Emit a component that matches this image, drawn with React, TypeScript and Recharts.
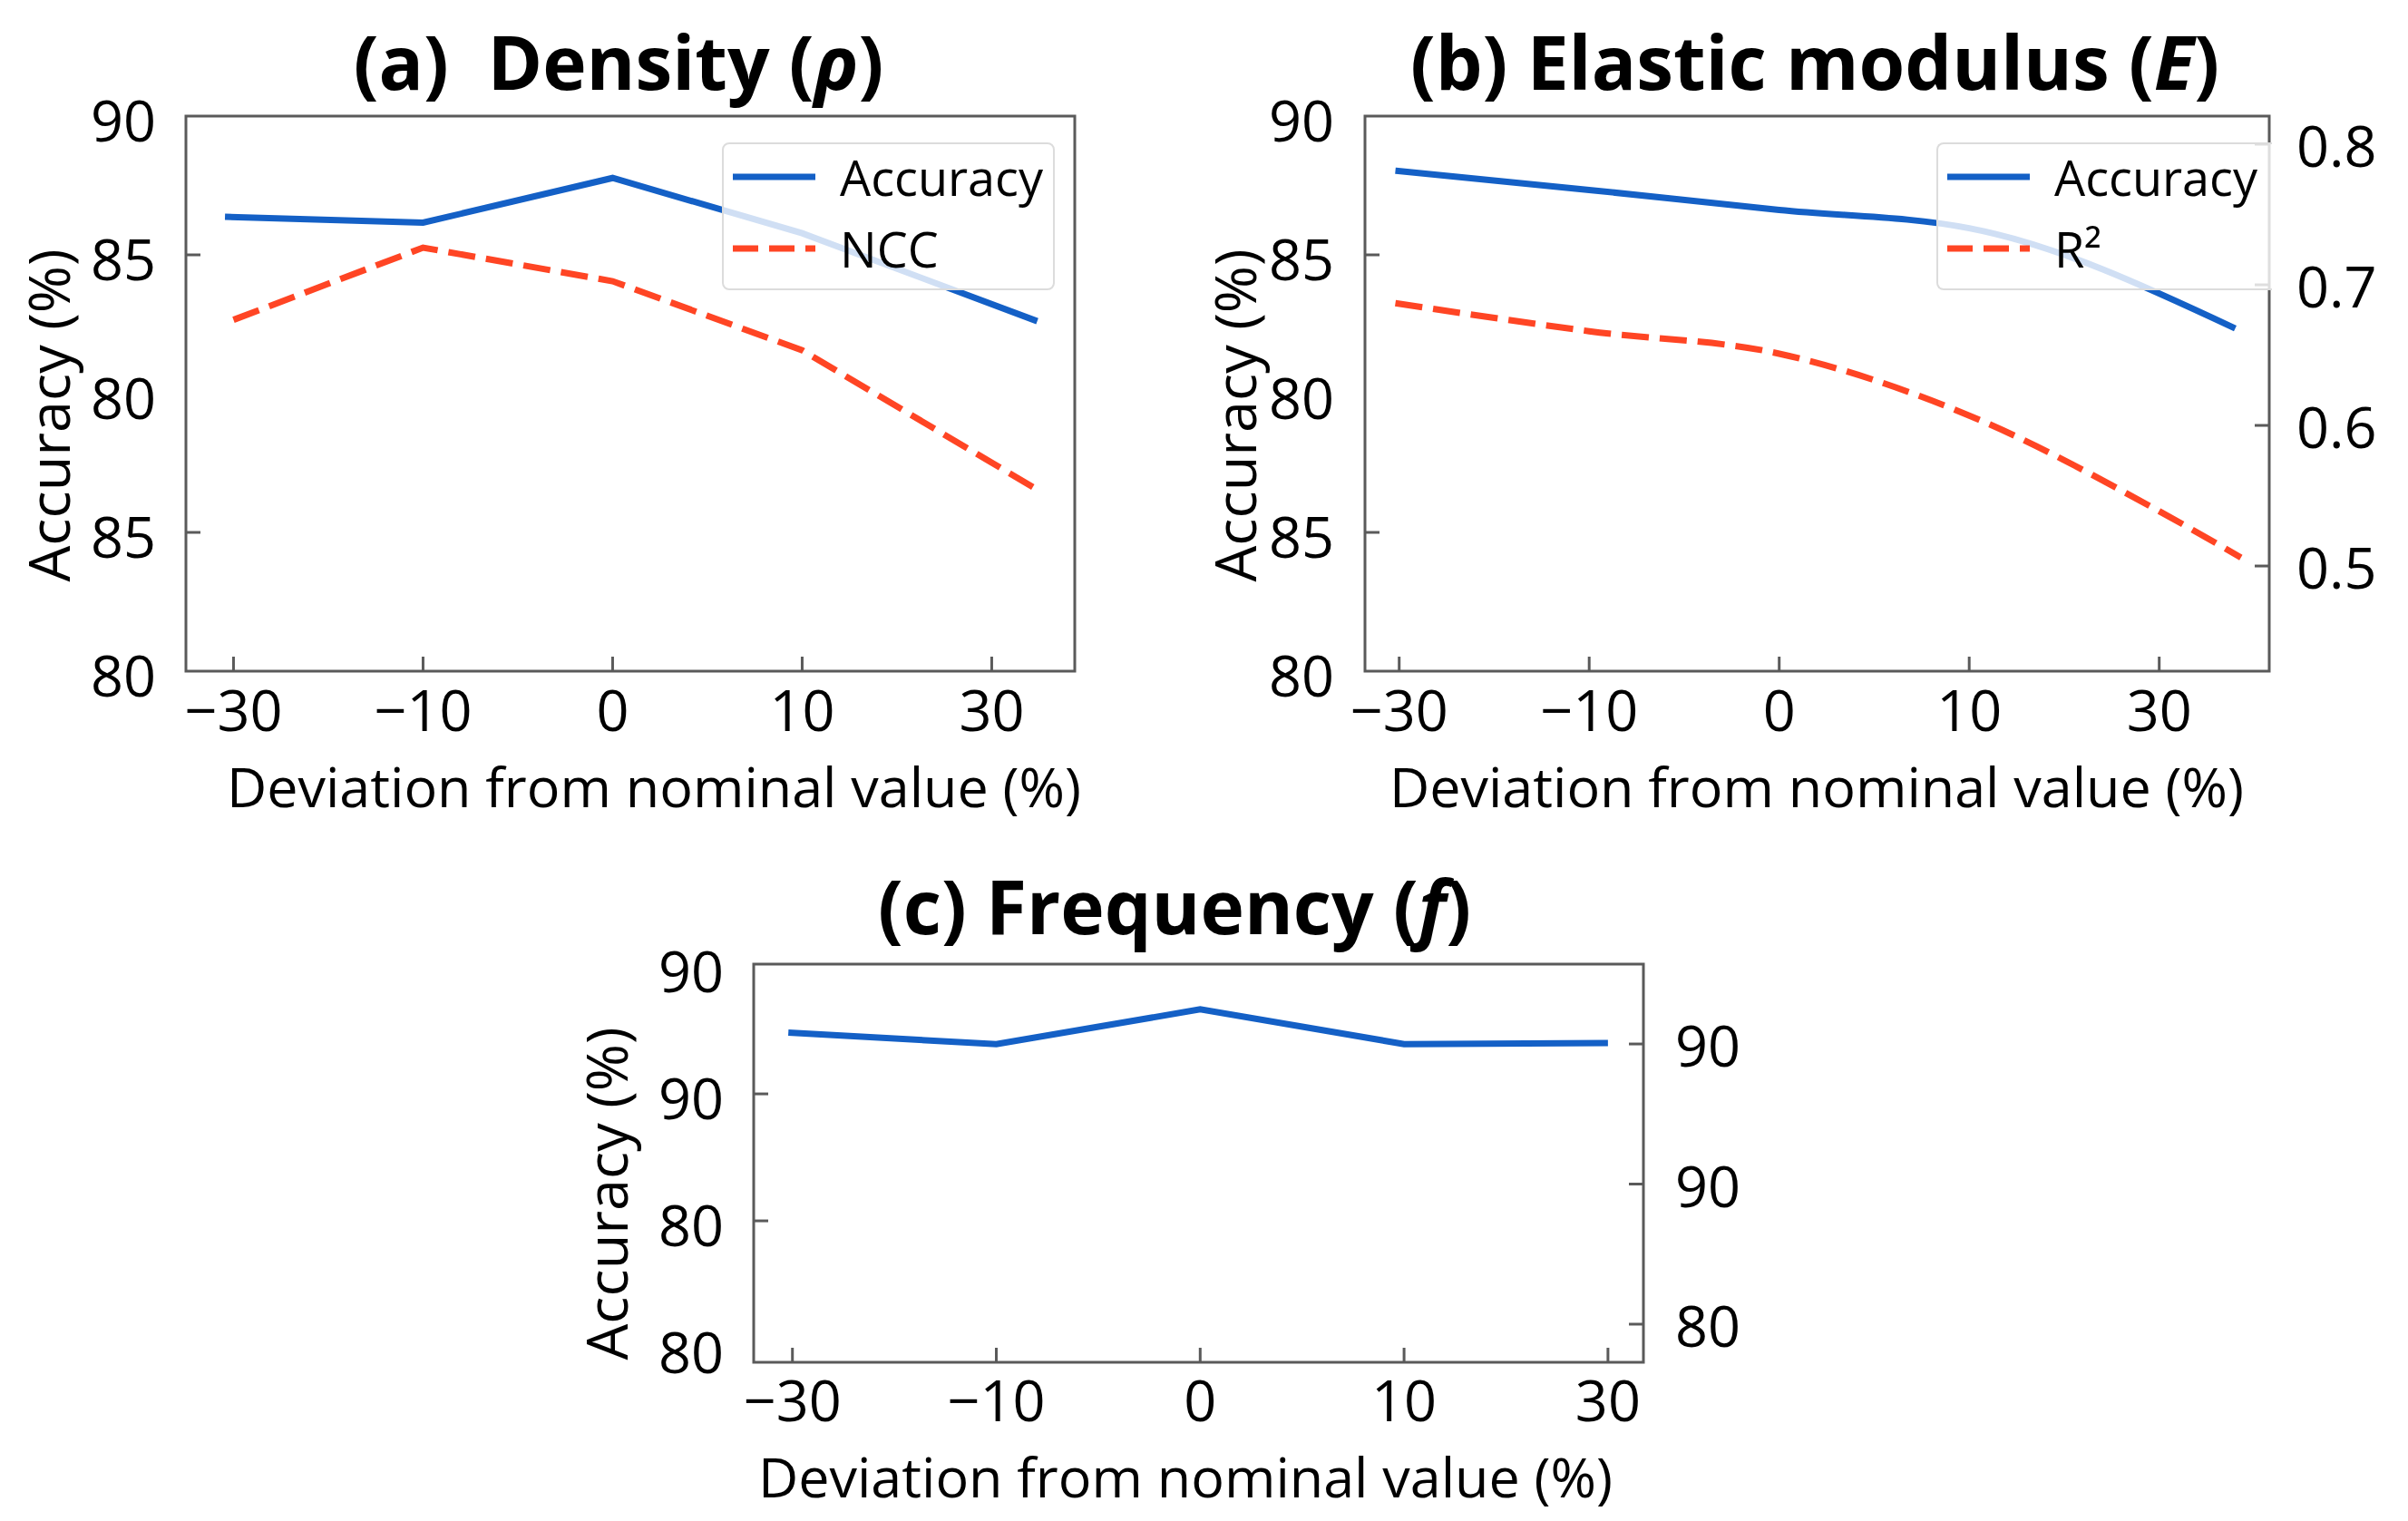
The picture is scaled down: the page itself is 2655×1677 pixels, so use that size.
import React from 'react';
import { LineChart, Line, XAxis, YAxis, ReferenceArea, Legend } from 'recharts';

// Sensitivity of accuracy to parameter deviation — three panels (a) (b) (c)

const FONT = '"Open Sans", "Noto Sans", sans-serif';
const BLUE = '#1460C6';
const RED = '#FF4524';
const FRAME = '#5a5a5a';

// the five deviation levels sit at equal spacing on the x axis (slot 0..4)
const deviationTicks = [0, 1, 2, 3, 4];
const deviationLabels = ['−30', '−10', '0', '10', '30'];

// (a) density
const densityAccX = [-0.045, 1, 2, 3, 4.24];
const densityAcc = [86.37, 86.16, 87.77, 85.78, 82.61];
const densityNccX = [0, 1, 2, 3, 4.24];
const densityNcc = [82.66, 85.26, 84.05, 81.56, 76.54];

// (b) elastic modulus
const elasticAccX = [-0.02, 1, 2, 3, 4.4];
const elasticAcc = [88.03, 87.34, 86.62, 85.96, 82.35];
const elasticR2X = [-0.02, 1, 2, 3, 4, 4.43];
const elasticR2 = [0.687, 0.667, 0.651, 0.607, 0.539, 0.506];

// (c) frequency
const freqAccX = [-0.02, 1, 2, 3, 4];
const freqAcc = [87.41, 86.96, 88.33, 86.96, 87.0];

// y ticks — the figure repeats some of its labels
const accTicksAB = [70, 75, 80, 85, 90];
const accLabelsAB = ['80', '85', '80', '85', '90'];
const accMarkedAB = [75, 85];
const r2Ticks = [0.5, 0.6, 0.7, 0.8];
const r2Labels = ['0.5', '0.6', '0.7', '0.8'];
const accTicksC = [75, 80, 85, 90];
const accLabelsC = ['80', '80', '90', '90'];
const accMarkedC = [80, 85];
const rightTicksC = [80, 85, 90];
const rightLabelsC = ['80', '90', '90'];

const toPoints = (xs: number[], ys: number[]) => xs.map((x, i) => ({ x, y: ys[i] }));

const X_DOMAIN_A: [number, number] = [-0.251, 4.438];
const X_DOMAIN_B: [number, number] = [-0.18, 4.579];
const X_DOMAIN_C: [number, number] = [-0.19, 4.174];
const ACC_DOMAIN_AB: [number, number] = [70, 90];
const R2_DOMAIN: [number, number] = [0.4252, 0.82];
const ACC_DOMAIN_C: [number, number] = [74.43, 90.11];
const RIGHT_DOMAIN_C: [number, number] = [78.64, 92.85];

const TICK_FONT = 63;
const MARK = 16;

type Side = 'left' | 'right' | 'bottom';

// custom tick: label plus an inward tick mark (only some ticks carry a mark)
const makeTick =
  (side: Side, ticks: number[], labels: string[], marked: number[] | null, gap: number) =>
  (props: any) => {
    const { x, y, payload } = props;
    const i = ticks.indexOf(payload.value);
    const label = i >= 0 ? labels[i] : String(payload.value);
    const hasMark = marked === null || marked.includes(payload.value);
    const textProps = { fontSize: TICK_FONT, fontFamily: FONT, fill: '#000' };
    if (side === 'bottom') {
      return (
        <g>
          {hasMark && <line x1={x} x2={x} y1={y} y2={y - MARK} stroke={FRAME} strokeWidth={3} />}
          <text x={x} y={y + gap} textAnchor="middle" {...textProps}>
            {label}
          </text>
        </g>
      );
    }
    if (side === 'left') {
      const ax = x + gap;
      return (
        <g>
          {hasMark && <line x1={ax} x2={ax + MARK} y1={y} y2={y} stroke={FRAME} strokeWidth={3} />}
          <text x={x} y={y + 28} textAnchor="end" {...textProps}>
            {label}
          </text>
        </g>
      );
    }
    const ax = x - gap;
    return (
      <g>
        {hasMark && <line x1={ax} x2={ax - MARK} y1={y} y2={y} stroke={FRAME} strokeWidth={3} />}
        <text x={x} y={y + 25} textAnchor="start" {...textProps}>
          {label}
        </text>
      </g>
    );
  };

// for the bottom axis "gap" is the baseline drop below the frame
const xTick = makeTick('bottom', deviationTicks, deviationLabels, null, 66);
const xTickC = makeTick('bottom', deviationTicks, deviationLabels, null, 65);

interface LegendItem {
  name: string;
  color: string;
  dash?: string;
}

const LegendBox: React.FC<{ items: LegendItem[]; width: number; openRight?: boolean }> = ({
  items,
  width,
  openRight,
}) => (
  <div
    style={{
      position: 'relative',
      width,
      height: 163,
      boxSizing: 'border-box',
      background: 'rgba(255,255,255,0.8)',
      border: '2px solid #dcdcdc',
      borderRight: openRight ? 'none' : '2px solid #dcdcdc',
      borderRadius: openRight ? '8px 0 0 8px' : 8,
      fontFamily: FONT,
      fontSize: 54,
      color: '#000',
    }}
  >
    {items.map((it, i) => {
      const cy = 36 + i * 79;
      return (
        <div key={it.name} style={{ position: 'absolute', left: 0, top: cy - 28, height: 56, width }}>
          <svg width={100} height={56} style={{ position: 'absolute', left: 10, top: 0 }}>
            <line x1={0} x2={91} y1={28} y2={28} stroke={it.color} strokeWidth={7} strokeDasharray={it.dash} />
          </svg>
          <div style={{ position: 'absolute', left: 128, top: 0, lineHeight: '56px', whiteSpace: 'nowrap' }}>
            {it.name}
          </div>
        </div>
      );
    })}
  </div>
);

const Title: React.FC<{ cx: number; top: number; children: React.ReactNode }> = ({ cx, top, children }) => (
  <div
    style={{
      position: 'absolute',
      left: cx,
      top,
      transform: 'translateX(-50%)',
      fontFamily: FONT,
      fontSize: 82,
      fontWeight: 700,
      lineHeight: 1,
      whiteSpace: 'pre',
      color: '#000',
    }}
  >
    {children}
  </div>
);

// line-height kept tight so the text box does not run into the tick labels
const XLabel: React.FC<{ cx: number; top: number }> = ({ cx, top }) => (
  <div
    style={{
      position: 'absolute',
      left: cx,
      top,
      transform: 'translateX(-50%)',
      fontFamily: FONT,
      fontSize: 61,
      lineHeight: 0.8,
      whiteSpace: 'nowrap',
      color: '#000',
    }}
  >
    Deviation from nominal value (%)
  </div>
);

const YLabel: React.FC<{ cx: number; cy: number }> = ({ cx, cy }) => (
  <div
    style={{
      position: 'absolute',
      left: cx,
      top: cy,
      transform: 'translate(-50%, -50%) rotate(-90deg)',
      fontFamily: FONT,
      fontSize: 63,
      lineHeight: 1,
      whiteSpace: 'nowrap',
      color: '#000',
    }}
  >
    Accuracy (%)
  </div>
);

const lineCommon = {
  dataKey: 'y',
  dot: false,
  activeDot: false,
  strokeWidth: 7,
  isAnimationActive: false,
} as const;

export default function App() {
  return (
    <div style={{ position: 'relative', width: 2655, height: 1677, background: '#fff', overflow: 'hidden' }}>
      <style>{'body{margin:0}'}</style>

      {/* (a) Density */}
      <div style={{ position: 'absolute', left: 0, top: 0 }}>
        <LineChart width={1330} height={930} margin={{ top: 128, right: 145, bottom: 90, left: 85 }}>
          <XAxis
            type="number"
            dataKey="x"
            domain={X_DOMAIN_A}
            ticks={deviationTicks}
            interval={0}
            allowDataOverflow
            axisLine={false}
            tickLine={false}
            tickSize={0}
            tickMargin={0}
            height={100}
            tick={xTick}
          />
          <YAxis
            type="number"
            domain={ACC_DOMAIN_AB}
            ticks={accTicksAB}
            interval={0}
            allowDataOverflow
            axisLine={false}
            tickLine={false}
            tickSize={0}
            tickMargin={33}
            width={120}
            tick={makeTick('left', accTicksAB, accLabelsAB, accMarkedAB, 33)}
          />
          <ReferenceArea
            x1={X_DOMAIN_A[0]}
            x2={X_DOMAIN_A[1]}
            y1={ACC_DOMAIN_AB[0]}
            y2={ACC_DOMAIN_AB[1]}
            fill="none"
            stroke={FRAME}
            strokeWidth={3}
            ifOverflow="visible"
          />
          <Line {...lineCommon} data={toPoints(densityAccX, densityAcc)} name="Accuracy" type="linear" stroke={BLUE} />
          <Line
            {...lineCommon}
            data={toPoints(densityNccX, densityNcc)}
            name="NCC"
            type="linear"
            stroke={RED}
            strokeDasharray="30 12"
          />
          <Legend
            layout="vertical"
            align="center"
            verticalAlign="middle"
            wrapperStyle={{ left: 796, top: 157, width: 367 }}
            content={() => (
              <LegendBox
                width={367}
                items={[
                  { name: 'Accuracy', color: BLUE },
                  { name: 'NCC', color: RED, dash: '28 12' },
                ]}
              />
            )}
          />
        </LineChart>
      </div>

      {/* (b) Elastic modulus */}
      <div style={{ position: 'absolute', left: 1330, top: 0 }}>
        <LineChart width={1325} height={930} margin={{ top: 128, right: 13, bottom: 90, left: 55 }}>
          <XAxis
            type="number"
            dataKey="x"
            domain={X_DOMAIN_B}
            ticks={deviationTicks}
            interval={0}
            allowDataOverflow
            axisLine={false}
            tickLine={false}
            tickSize={0}
            tickMargin={0}
            height={100}
            tick={xTick}
          />
          <YAxis
            yAxisId="acc"
            type="number"
            domain={ACC_DOMAIN_AB}
            ticks={accTicksAB}
            interval={0}
            allowDataOverflow
            axisLine={false}
            tickLine={false}
            tickSize={0}
            tickMargin={34}
            width={120}
            tick={makeTick('left', accTicksAB, accLabelsAB, accMarkedAB, 34)}
          />
          <YAxis
            yAxisId="r2"
            orientation="right"
            type="number"
            domain={R2_DOMAIN}
            ticks={r2Ticks}
            interval={0}
            allowDataOverflow
            axisLine={false}
            tickLine={false}
            tickSize={0}
            tickMargin={30}
            width={140}
            tick={makeTick('right', r2Ticks, r2Labels, null, 30)}
          />
          <ReferenceArea
            yAxisId="acc"
            x1={X_DOMAIN_B[0]}
            x2={X_DOMAIN_B[1]}
            y1={ACC_DOMAIN_AB[0]}
            y2={ACC_DOMAIN_AB[1]}
            fill="none"
            stroke={FRAME}
            strokeWidth={3}
            ifOverflow="visible"
          />
          <Line
            {...lineCommon}
            yAxisId="acc"
            data={toPoints(elasticAccX, elasticAcc)}
            name="Accuracy"
            type="monotone"
            stroke={BLUE}
          />
          <Line
            {...lineCommon}
            yAxisId="r2"
            data={toPoints(elasticR2X, elasticR2)}
            name="R²"
            type="monotone"
            stroke={RED}
            strokeDasharray="30 12"
          />
          <Legend
            layout="vertical"
            align="center"
            verticalAlign="middle"
            wrapperStyle={{ left: 805, top: 157, width: 370 }}
            content={() => (
              <LegendBox
                width={370}
                openRight
                items={[
                  { name: 'Accuracy', color: BLUE },
                  { name: 'R²', color: RED, dash: '28 12' },
                ]}
              />
            )}
          />
        </LineChart>
      </div>

      {/* (c) Frequency */}
      <div style={{ position: 'absolute', left: 600, top: 930 }}>
        <LineChart width={1400} height={747} margin={{ top: 133, right: 48, bottom: 75, left: 111 }}>
          <XAxis
            type="number"
            dataKey="x"
            domain={X_DOMAIN_C}
            ticks={deviationTicks}
            interval={0}
            allowDataOverflow
            axisLine={false}
            tickLine={false}
            tickSize={0}
            tickMargin={0}
            height={100}
            tick={xTickC}
          />
          <YAxis
            yAxisId="acc"
            type="number"
            domain={ACC_DOMAIN_C}
            ticks={accTicksC}
            interval={0}
            allowDataOverflow
            axisLine={false}
            tickLine={false}
            tickSize={0}
            tickMargin={33}
            width={120}
            tick={makeTick('left', accTicksC, accLabelsC, accMarkedC, 33)}
          />
          <YAxis
            yAxisId="right"
            orientation="right"
            type="number"
            domain={RIGHT_DOMAIN_C}
            ticks={rightTicksC}
            interval={0}
            allowDataOverflow
            axisLine={false}
            tickLine={false}
            tickSize={0}
            tickMargin={35}
            width={140}
            tick={makeTick('right', rightTicksC, rightLabelsC, null, 35)}
          />
          <ReferenceArea
            yAxisId="acc"
            x1={X_DOMAIN_C[0]}
            x2={X_DOMAIN_C[1]}
            y1={ACC_DOMAIN_C[0]}
            y2={ACC_DOMAIN_C[1]}
            fill="none"
            stroke={FRAME}
            strokeWidth={3}
            ifOverflow="visible"
          />
          <Line
            {...lineCommon}
            yAxisId="acc"
            data={toPoints(freqAccX, freqAcc)}
            name="Accuracy"
            type="linear"
            stroke={BLUE}
          />
        </LineChart>
      </div>

      <Title cx={682} top={26}>
        (a)  Density (<i>ρ</i>)
      </Title>
      <Title cx={2001} top={26}>
        (b) Elastic modulus (<i>E</i>)
      </Title>
      <Title cx={1295} top={957}>
        (c) Frequency (<i>f</i>)
      </Title>

      <XLabel cx={721} top={843} />
      <XLabel cx={2003} top={843} />
      <XLabel cx={1307} top={1604} />

      <YLabel cx={52} cy={458} />
      <YLabel cx={1360} cy={458} />
      <YLabel cx={667} cy={1316} />
    </div>
  );
}
